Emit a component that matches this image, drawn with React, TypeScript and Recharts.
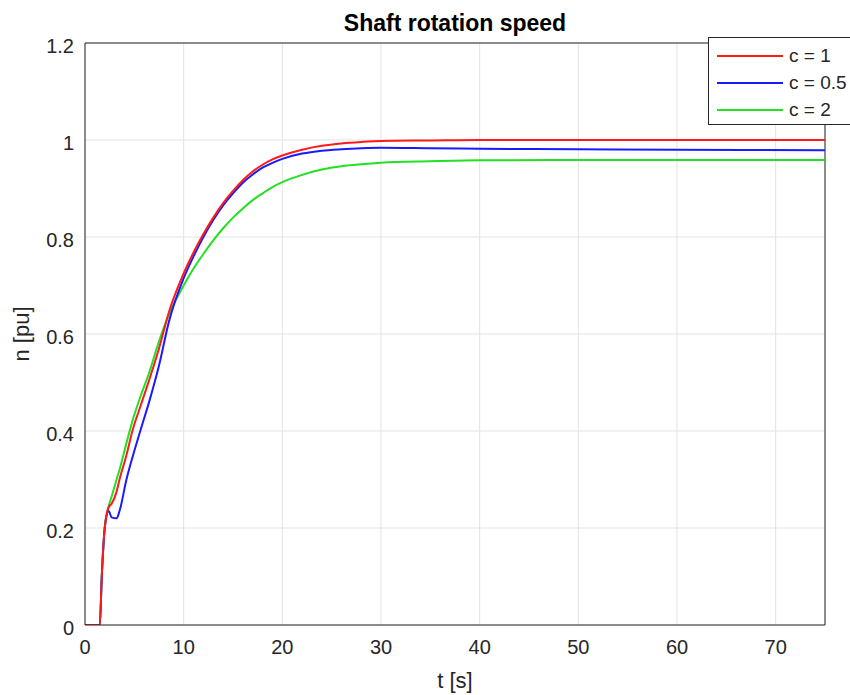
import React from 'react';
import { LineChart, Line, XAxis, YAxis, CartesianGrid, ReferenceLine, Legend } from 'recharts';

const time = [0, 1.5, 1.7, 2.0, 2.4, 2.7, 3.2, 3.5, 4.2, 4.8, 5.6, 6.5, 7.5, 8.5, 10, 11, 12, 13, 14, 15, 16, 17, 18, 19, 20, 22, 24, 26, 28, 30, 35, 40, 50, 60, 75];
const speedC1 = [0, 0, 0.1, 0.2, 0.243, 0.25, 0.275, 0.3, 0.35, 0.4, 0.45, 0.505, 0.57, 0.645, 0.725, 0.768, 0.806, 0.84, 0.87, 0.895, 0.917, 0.935, 0.949, 0.96, 0.968, 0.98, 0.988, 0.993, 0.996, 0.998, 0.999, 1.0, 1.0, 1.0, 1.0];
const speedC05 = [0, 0, 0.1, 0.2, 0.235, 0.222, 0.22, 0.235, 0.3, 0.345, 0.4, 0.46, 0.535, 0.625, 0.715, 0.76, 0.8, 0.835, 0.865, 0.89, 0.912, 0.929, 0.943, 0.953, 0.961, 0.972, 0.978, 0.981, 0.983, 0.984, 0.983, 0.982, 0.981, 0.98, 0.979];
const speedC2 = [0, 0, 0.1, 0.2, 0.245, 0.265, 0.3, 0.32, 0.375, 0.42, 0.47, 0.52, 0.585, 0.64, 0.7, 0.735, 0.765, 0.793, 0.818, 0.84, 0.859, 0.876, 0.89, 0.903, 0.913, 0.928, 0.939, 0.946, 0.95, 0.953, 0.956, 0.958, 0.959, 0.959, 0.959];

const xTicks = [0, 10, 20, 30, 40, 50, 60, 70];
const yTicks = [0, 0.2, 0.4, 0.6, 0.8, 1, 1.2];

const seriesNames = ['c = 1', 'c = 0.5', 'c = 2'];
const seriesColors = ['#ff1a1a', '#1a1aff', '#22e022'];

const data = time.map((t, i) => ({ t, c1: speedC1[i], c05: speedC05[i], c2: speedC2[i] }));

const FONT = '"Liberation Sans", Arial, Helvetica, sans-serif';
const TXT = '#262626';

const LegendBox = () => (
  <div style={{ position: 'absolute', left: 708, top: 37, width: 150, height: 88, boxSizing: 'border-box', border: '1px solid #262626', background: '#fff', fontFamily: FONT, fontSize: 19, color: TXT }}>
    {seriesNames.map((n, i) => (
      <div key={n} style={{ position: 'absolute', left: 8, top: 8 + i * 27, height: 20, display: 'flex', alignItems: 'center', whiteSpace: 'nowrap' }}>
        <div style={{ width: 66, height: 2, background: seriesColors[i], marginRight: 6 }} />
        <span>{n}</span>
      </div>
    ))}
  </div>
);

export default function App() {
  return (
    <div style={{ position: 'absolute', left: 0, top: 0, width: 850, height: 695, overflow: 'hidden', background: '#fff' }}>
      <div style={{ position: 'absolute', left: 205, width: 500, top: 10, textAlign: 'center', fontFamily: FONT, fontWeight: 'bold', fontSize: 23, color: '#000' }}>
        Shaft rotation speed
      </div>
      <LineChart width={850} height={695} data={data} margin={{ top: 43, right: 25, bottom: 0, left: 10 }}>
        <CartesianGrid stroke="#e3e3e3" strokeWidth={1} />
        <XAxis
          dataKey="t"
          type="number"
          domain={[0, 75]}
          ticks={xTicks}
          allowDataOverflow
          height={70}
          tickSize={0}
          tickMargin={15}
          tickLine={false}
          axisLine={{ stroke: TXT, strokeWidth: 1 }}
          tick={{ fill: TXT, fontSize: 20, fontFamily: FONT }}
          label={{ value: 't [s]', position: 'insideBottom', offset: 7, fill: TXT, fontSize: 22, fontFamily: FONT }}
        />
        <YAxis
          type="number"
          domain={[0, 1.2]}
          ticks={yTicks}
          allowDataOverflow
          width={75}
          tickSize={0}
          tickMargin={11}
          tickLine={false}
          axisLine={{ stroke: TXT, strokeWidth: 1 }}
          tick={{ fill: TXT, fontSize: 20, fontFamily: FONT, dy: 3 }}
          label={{ value: 'n [pu]', angle: -90, position: 'insideLeft', offset: 11, fill: TXT, fontSize: 22, fontFamily: FONT, style: { textAnchor: 'middle' } }}
        />
        <ReferenceLine y={1.2} stroke={TXT} strokeWidth={1} />
        <ReferenceLine x={75} stroke={TXT} strokeWidth={1} />
        <Line type="monotone" dataKey="c2" stroke={seriesColors[2]} strokeWidth={2} dot={false} isAnimationActive={false} />
        <Line type="monotone" dataKey="c05" stroke={seriesColors[1]} strokeWidth={2} dot={false} isAnimationActive={false} />
        <Line type="monotone" dataKey="c1" stroke={seriesColors[0]} strokeWidth={2} dot={false} isAnimationActive={false} />
        <Legend content={() => null} />
      </LineChart>
      <LegendBox />
    </div>
  );
}
